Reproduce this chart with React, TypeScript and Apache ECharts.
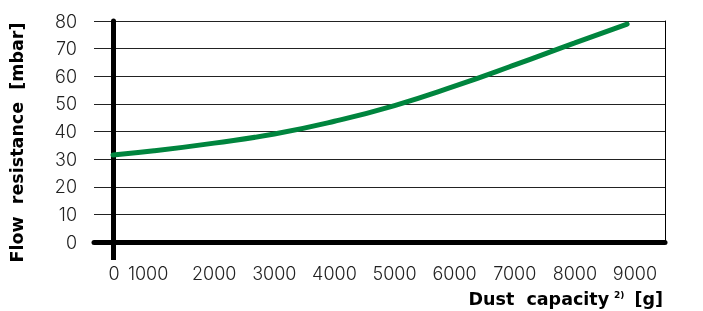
import React, { useEffect, useRef } from "react";
import * as echarts from "echarts";

// Dust capacity [g] vs flow resistance [mbar]
const dustCapacity = [316, 1000, 2000, 3000, 4000, 5000, 6000, 7000, 8000, 8870];
const flowResistance = [31.5, 33.0, 35.8, 39.1, 43.7, 49.4, 56.4, 64.1, 72.1, 78.9];

const xTickLabels = [0, 1000, 2000, 3000, 4000, 5000, 6000, 7000, 8000, 9000];
const yTickLabels = [0, 10, 20, 30, 40, 50, 60, 70, 80];
const xAxisMax = 9500;

// x value (g) where the vertical axis line stands
const yAxisAt = 316;

const xTitle = ["Dust  capacity", "2)", "[g]"];
const yTitle = "Flow  resistance  [mbar]";

export default function App() {
  const ref = useRef<HTMLDivElement>(null);

  useEffect(() => {
    if (!ref.current) return;
    const chart = echarts.init(ref.current, null, { renderer: "svg" });

    const W = 703;
    const gridLeft = 94;
    const gridRight = 38;
    const plotW = W - gridLeft - gridRight;
    const xMin = xTickLabels[0];
    const yAxisOffset = -((yAxisAt - xMin) / (xAxisMax - xMin)) * plotW;

    const tickFont = {
      fontFamily: "Inter",
      fontWeight: 300 as any,
      fontSize: 18,
      color: "#222",
    };
    const titleFont = {
      fontFamily: "DejaVu Sans",
      fontWeight: "bold" as any,
      fontSize: 17.5,
      color: "#000",
    };

    chart.setOption({
      animation: false,
      grid: { left: gridLeft, right: gridRight, top: 21, bottom: 69 },
      xAxis: {
        type: "value",
        min: xMin,
        max: xAxisMax,
        interval: 1000,
        name: `{b|${xTitle[0]}}{s|${xTitle[1]}}{b|${xTitle[2]}}`,
        nameLocation: "end",
        nameGap: -2,
        nameTextStyle: {
          align: "right",
          verticalAlign: "top",
          padding: [48, 0, 0, 0],
          rich: {
            b: { ...titleFont },
            s: { ...titleFont, fontSize: 9, verticalAlign: "top", padding: [0, 10, 0, 5] },
          },
        },
        axisLine: { show: true, onZero: false, lineStyle: { color: "#000", width: 5 } },
        axisTick: {
          show: true,
          customValues: [yAxisAt],
          length: 18,
          lineStyle: { color: "#000", width: 5 },
        },
        axisLabel: {
          show: true,
          margin: 22,
          customValues: xTickLabels,
          formatter: (v: number) =>
            v === 0 ? `{z|${v}}` : v === 1000 ? `{a|${v}}` : `{n|${v}}`,
          rich: {
            z: { ...tickFont, padding: [0, 0, 0, 40] },
            a: { ...tickFont, padding: [0, 12, 0, 0] },
            n: { ...tickFont },
          },
        },
        splitLine: { show: false },
      },
      yAxis: [
        {
          type: "value",
          min: yTickLabels[0],
          max: yTickLabels[yTickLabels.length - 1],
          interval: 10,
          offset: yAxisOffset,
          name: yTitle,
          nameLocation: "middle",
          nameRotate: 90,
          nameGap: 87,
          nameTextStyle: { ...titleFont, padding: [0, 22, 0, 0] },
          axisLine: { show: true, onZero: false, lineStyle: { color: "#000", width: 5 } },
          axisTick: { show: false },
          axisLabel: { margin: 36, ...tickFont },
          splitLine: { show: true, lineStyle: { color: "#222", width: 1 } },
        },
        {
          type: "value",
          position: "right",
          min: yTickLabels[0],
          max: yTickLabels[yTickLabels.length - 1],
          interval: 10,
          axisLine: { show: true, onZero: false, lineStyle: { color: "#000", width: 1 } },
          axisTick: { show: false },
          axisLabel: { show: false },
          splitLine: { show: false },
        },
      ],
      series: [
        {
          type: "line",
          data: dustCapacity.map((x, i) => [x, flowResistance[i]]),
          smooth: true,
          symbol: "none",
          z: 5,
          lineStyle: { color: "#00853e", width: 5, cap: "round" },
        },
      ],
    });

    return () => chart.dispose();
  }, []);

  return (
    <div
      ref={ref}
      style={{ position: "fixed", left: 0, top: 0, width: 703, height: 311 }}
    />
  );
}
